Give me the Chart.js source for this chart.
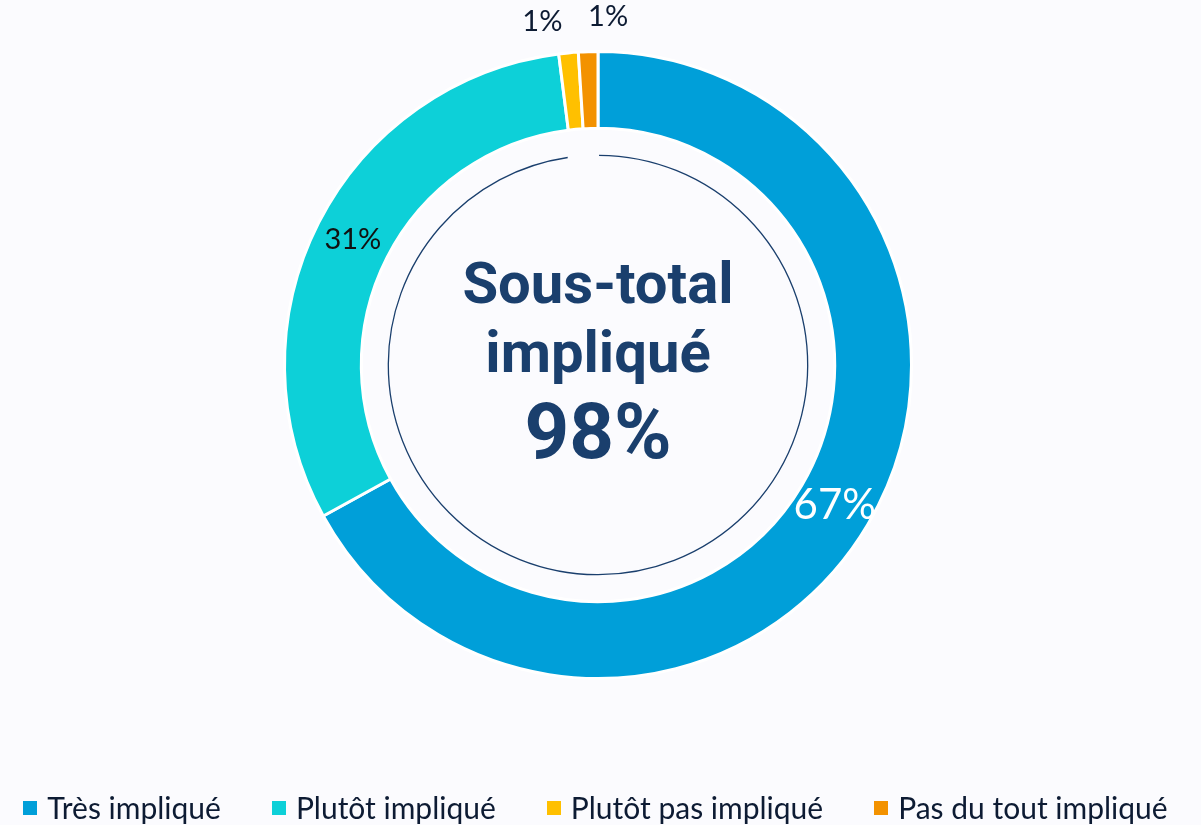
<!DOCTYPE html>
<html>
<head>
<meta charset="utf-8">
<script src="https://cdn.jsdelivr.net/npm/chart.js@4"></script>
<style>
  body { margin: 0; background: #fbfbfe; }
  #wrap { position: relative; width: 1201px; height: 825px; }
  #legend { position: absolute; left: 0; right: 0; top: 789px; display: flex; justify-content: center; gap: 51px;
            font-family: Lato, sans-serif; font-size: 30px; color: #0d1b33; padding-right: 10px; }
  .item { display: flex; align-items: center; white-space: nowrap; }
  .box { width: 14px; height: 14px; margin-right: 10px; margin-top: 2px; }
</style>
</head>
<body>
<div id="wrap"><canvas id="chart"></canvas><div id="legend"></div></div>
<script>
let categories = ['Très impliqué', 'Plutôt impliqué', 'Plutôt pas impliqué', 'Pas du tout impliqué'];
let values = [67, 31, 1, 1];
let colors = ['#009fd9', '#0dd0d8', '#ffc000', '#f39200'];
let labelColors = ['#ffffff', '#111111', '#0d1b33', '#0d1b33'];
let centerLines = ['Sous-total', 'impliqué', '98%'];

// labels on the slices, small ones pushed outside
const sliceLabels = {
    id: 'sliceLabels',
    afterDatasetsDraw(chart) {
        const ctx = chart.ctx;
        const arcs = chart.getDatasetMeta(0).data;
        ctx.save();
        ctx.textAlign = 'center';
        ctx.textBaseline = 'middle';
        let smallCount = 0;
        for (let i = 0; i < arcs.length; i++) {
            const arc = arcs[i];
            const mid = (arc.startAngle + arc.endAngle) / 2;
            let r, size, dx = 0, dy = 0;
            if (values[i] >= 5) {
                r = (arc.innerRadius + arc.outerRadius) / 2;
                size = values[i] > 50 ? 42 : 29;
            } else {
                r = arc.outerRadius + 33;
                size = 29;
                dx = smallCount == 0 ? -23 : 21;
                dy = smallCount == 0 ? 2 : -2;
                smallCount++;
            }
            ctx.font = size + 'px Lato';
            ctx.fillStyle = labelColors[i];
            ctx.fillText(values[i] + '%', arc.x + Math.cos(mid) * r + dx, arc.y + Math.sin(mid) * r + dy);
        }
        ctx.restore();
    }
};

// thin circle and text in the middle
const centerText = {
    id: 'centerText',
    afterDraw(chart) {
        const ctx = chart.ctx;
        const arc = chart.getDatasetMeta(0).data[0];
        const cx = arc.x, cy = arc.y;
        ctx.save();
        ctx.strokeStyle = '#1a3f6d';
        ctx.lineWidth = 1.3;
        ctx.beginPath();
        ctx.arc(cx, cy, arc.innerRadius - 27, -Math.PI / 2 + 0.005, -Math.PI / 2 - 0.145 + Math.PI * 2);
        ctx.stroke();
        ctx.fillStyle = '#1a3f6d';
        ctx.textAlign = 'center';
        ctx.textBaseline = 'alphabetic';
        ctx.font = 'bold 58px Roboto';
        ctx.fillText(centerLines[0], cx, cy - 62);
        ctx.fillText(centerLines[1], cx, cy + 7);
        ctx.font = 'bold 78px Roboto';
        ctx.fillText(centerLines[2], cx, cy + 93);
        ctx.restore();
    }
};

new Chart(document.getElementById('chart'), {
    type: 'doughnut',
    data: {
        labels: categories,
        datasets: [{
            data: values,
            backgroundColor: colors,
            borderColor: '#ffffff',
            borderWidth: 3
        }]
    },
    options: {
        responsive: true,
        maintainAspectRatio: false,
        animation: false,
        cutout: '75.5%',
        layout: { padding: { top: 50, bottom: 145, left: 0, right: 5 } },
        plugins: {
            tooltip: { enabled: false },
            legend: { display: false }
        }
    },
    plugins: [sliceLabels, centerText]
});

let legendHtml = '';
for (let i = 0; i < categories.length; i++) {
    legendHtml += `<div class="item"><span class="box" style="background:${colors[i]}"></span>${categories[i]}</div>`;
}
document.getElementById('legend').innerHTML = legendHtml;
</script>
</body>
</html>
